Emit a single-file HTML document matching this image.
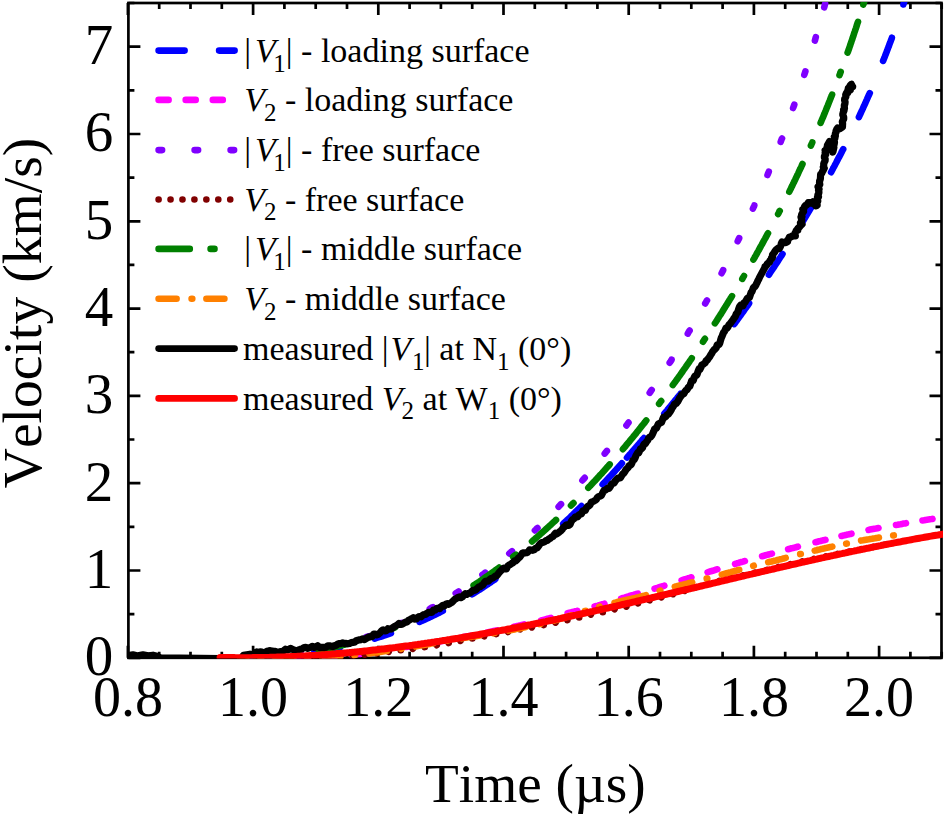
<!DOCTYPE html>
<html><head><meta charset="utf-8"><style>
html,body{margin:0;padding:0;background:#fff;overflow:hidden;}
svg{display:block;}
text{font-family:"Liberation Serif",serif;fill:#000;font-kerning:none;}
</style></head><body>
<svg width="944" height="816" viewBox="0 0 944 816">
<defs><clipPath id="pc"><rect x="128" y="2" width="815" height="656.5"/></clipPath></defs>
<rect width="944" height="816" fill="#fff"/>
<g stroke="#000" stroke-width="2.7" fill="none">
<rect x="128.4" y="3.0" width="813.1" height="654.8"/>
<path d="M127.9 657.8V645.8M127.9 3.0V15.0M159.2 657.8V651.8M159.2 3.0V9.0M190.5 657.8V651.8M190.5 3.0V9.0M221.8 657.8V651.8M221.8 3.0V9.0M253.1 657.8V645.8M253.1 3.0V15.0M284.4 657.8V651.8M284.4 3.0V9.0M315.7 657.8V651.8M315.7 3.0V9.0M347.0 657.8V651.8M347.0 3.0V9.0M378.3 657.8V645.8M378.3 3.0V15.0M409.6 657.8V651.8M409.6 3.0V9.0M440.9 657.8V651.8M440.9 3.0V9.0M472.2 657.8V651.8M472.2 3.0V9.0M503.5 657.8V645.8M503.5 3.0V15.0M534.8 657.8V651.8M534.8 3.0V9.0M566.1 657.8V651.8M566.1 3.0V9.0M597.4 657.8V651.8M597.4 3.0V9.0M628.7 657.8V645.8M628.7 3.0V15.0M660.0 657.8V651.8M660.0 3.0V9.0M691.3 657.8V651.8M691.3 3.0V9.0M722.6 657.8V651.8M722.6 3.0V9.0M753.9 657.8V645.8M753.9 3.0V15.0M785.2 657.8V651.8M785.2 3.0V9.0M816.5 657.8V651.8M816.5 3.0V9.0M847.8 657.8V651.8M847.8 3.0V9.0M879.1 657.8V645.8M879.1 3.0V15.0M910.4 657.8V651.8M910.4 3.0V9.0M941.7 657.8V651.8M941.7 3.0V9.0M128.4 657.8H140.4M941.5 657.8H929.5M128.4 614.1H134.4M941.5 614.1H935.5M128.4 570.5H140.4M941.5 570.5H929.5M128.4 526.8H134.4M941.5 526.8H935.5M128.4 483.2H140.4M941.5 483.2H929.5M128.4 439.5H134.4M941.5 439.5H935.5M128.4 395.9H140.4M941.5 395.9H929.5M128.4 352.2H134.4M941.5 352.2H935.5M128.4 308.6H140.4M941.5 308.6H929.5M128.4 264.9H134.4M941.5 264.9H935.5M128.4 221.3H140.4M941.5 221.3H929.5M128.4 177.6H134.4M941.5 177.6H935.5M128.4 134.0H140.4M941.5 134.0H929.5M128.4 90.4H134.4M941.5 90.4H935.5M128.4 46.7H140.4M941.5 46.7H929.5M128.4 3.0H134.4M941.5 3.0H935.5"/>
</g>
<g clip-path="url(#pc)" fill="none" stroke-width="6.6" stroke-linecap="round" stroke-linejoin="round">
<path d="M252.9 657.0 L254.7 656.9 L256.2 656.8 L257.7 656.7 L259.2 656.6 L260.7 656.5 L262.2 656.4 L263.7 656.3 L265.2 656.2 L266.7 656.1 L268.2 656.0 L269.7 655.9 L271.2 655.8 L272.7 655.7 L274.2 655.6 L275.7 655.5 L277.2 655.3 L278.7 655.2 L278.9 655.2 M314.4 651.4 L316.1 651.2 L317.6 651.0 L319.1 650.7 L320.5 650.5 L322.0 650.3 L323.5 650.1 L325.0 649.8 L326.5 649.6 L328.0 649.3 L329.5 649.1 L331.0 648.8 L332.5 648.6 L334.0 648.3 L335.5 648.0 L337.0 647.8 L338.4 647.5 L339.9 647.2 L340.0 647.2 M374.7 638.6 L376.1 638.1 L377.5 637.7 L379.0 637.2 L380.4 636.8 L381.9 636.3 L383.3 635.8 L384.7 635.4 L386.2 634.9 L387.6 634.4 L389.0 633.9 L390.5 633.4 L390.9 633.2 M419.5 621.9 L420.9 621.3 L422.3 620.7 L423.6 620.1 L425.0 619.5 L426.4 618.8 L427.7 618.2 L429.1 617.6 L430.5 616.9 L431.8 616.3 L433.2 615.6 L434.5 615.0 L435.9 614.3 L437.2 613.6 L438.6 613.0 L439.9 612.3 L441.3 611.6 L442.6 610.9 L442.8 610.8 M472.2 594.2 L473.7 593.3 L475.1 592.4 L476.6 591.5 L478.1 590.5 L479.6 589.6 L481.0 588.7 L482.5 587.7 L483.9 586.8 L485.4 585.8 L486.9 584.8 L488.3 583.9 L489.7 582.9 L491.2 581.9 L492.6 580.9 L494.1 580.0 L495.3 579.1 M563.2 523.8 L564.3 522.7 L565.4 521.7 L566.5 520.7 L567.6 519.6 L568.7 518.6 L569.8 517.6 L570.9 516.5 L572.0 515.5 L573.1 514.4 L574.1 513.4 L575.2 512.3 L576.3 511.3 L577.4 510.2 L578.5 509.1 L579.5 508.1 L580.6 507.0 L581.5 506.1 M602.6 484.4 L603.6 483.3 L604.7 482.2 L605.7 481.1 L606.7 480.0 L607.8 478.9 L608.8 477.7 L609.8 476.6 L610.9 475.5 L611.9 474.4 L612.9 473.3 L613.9 472.2 L615.0 471.0 L616.0 469.9 L617.0 468.8 L618.0 467.6 L619.0 466.5 L620.1 465.4 L621.1 464.3 L621.9 463.3 M627.0 457.6 L628.0 456.5 L629.0 455.3 L630.0 454.2 L631.0 453.1 L632.0 451.9 L633.0 450.8 L634.0 449.6 L635.0 448.5 L636.0 447.3 L637.0 446.2 L638.0 445.0 L639.0 443.9 L640.0 442.7 L641.0 441.6 L641.9 440.4 L642.9 439.2 L643.9 438.1 M664.3 413.8 L665.2 412.6 L666.2 411.5 L667.2 410.3 L668.1 409.1 L669.1 407.9 L670.0 406.8 L671.0 405.6 L672.0 404.4 L672.9 403.2 L673.9 402.0 L674.8 400.9 L675.8 399.7 L676.8 398.5 L677.7 397.3 L678.7 396.2 L679.6 395.0 L680.6 393.8 L680.7 393.6 M734.2 324.1 L735.1 322.9 L735.9 321.7 L736.8 320.5 L737.7 319.2 L738.6 318.0 L739.5 316.8 L740.4 315.6 L741.2 314.4 L742.1 313.1 L743.0 311.9 L743.9 310.7 L744.7 309.5 L745.6 308.2 L746.5 307.0 L747.4 305.8 L748.2 304.6 L749.1 303.3 M768.9 274.7 L769.7 273.4 L770.5 272.2 L771.4 270.9 L772.2 269.7 L773.0 268.4 L773.9 267.2 L774.7 265.9 L775.5 264.7 L776.3 263.4 L777.2 262.2 L778.0 260.9 L778.9 259.5 L779.9 258.0 L780.9 256.5 L781.8 255.1 L782.5 254.0 M802.6 221.8 L803.5 220.3 L804.4 218.8 L805.3 217.3 L806.2 215.8 L807.1 214.3 L808.0 212.8 L808.9 211.3 L809.8 209.8 L810.7 208.3 L811.3 207.2 M831.1 172.2 L831.9 170.7 L832.7 169.2 L833.5 167.6 L834.4 166.1 L835.2 164.5 L836.0 163.0 L836.8 161.4 L837.6 159.9 L838.4 158.3 L839.3 156.8 L840.1 155.2 L840.9 153.7 L841.6 152.3 L842.2 151.0 L842.9 149.7 L843.2 149.2 M858.9 117.1 L859.5 115.7 L860.2 114.3 L860.8 113.0 L861.4 111.6 L862.1 110.2 L862.7 108.9 L863.3 107.5 L863.9 106.1 L864.6 104.8 L865.2 103.4 L865.8 102.0 L866.4 100.6 L867.0 99.3 L867.6 97.9 L868.2 96.5 L868.9 95.1 L869.5 93.7 L869.8 93.1 M883.1 60.9 L883.7 59.5 L884.2 58.1 L884.8 56.7 L885.3 55.3 L885.9 53.9 L886.4 52.5 L887.0 51.0 L887.5 49.6 L888.0 48.2 L888.6 46.8 L889.1 45.4 L889.6 43.9 L890.2 42.5 L890.7 41.1 L891.2 39.7 L891.8 38.2 L891.9 37.7 M903.4 4.5 L903.8 3.0 L904.3 1.6 L904.8 0.1 L905.2 -1.4 L905.7 -2.8 L906.1 -4.3 L906.6 -5.8 L907.0 -7.2 L907.5 -8.7 L908.0 -10.2 L908.4 -11.7 L908.8 -13.1 L909.3 -14.6" stroke="#0000ff"/>
<path d="M242.6 659.5 L244.5 659.5 L246.0 659.5 L247.5 659.5 L249.0 659.5 L250.5 659.5 L252.0 659.5 L252.8 659.4 M270.0 659.2 L272.0 659.2 L273.5 659.2 L275.0 659.2 L276.5 659.1 L278.0 659.1 L279.5 659.1 L280.2 659.1 M297.4 658.7 L299.0 658.6 L300.5 658.6 L302.0 658.5 L303.5 658.5 L305.0 658.4 L306.5 658.4 L307.6 658.3 M324.8 657.3 L326.5 657.1 L328.0 657.0 L329.5 656.9 L331.0 656.7 L332.5 656.6 L334.0 656.5 L335.0 656.4 M352.1 654.8 L354.0 654.6 L355.5 654.4 L357.0 654.3 L358.5 654.1 L360.0 653.9 L361.5 653.7 L362.2 653.6 M379.3 651.2 L381.0 651.0 L382.5 650.7 L384.0 650.5 L385.5 650.3 L387.0 650.0 L388.5 649.8 L389.3 649.7 M406.3 647.0 L408.0 646.8 L409.5 646.5 L411.0 646.3 L412.5 646.0 L414.0 645.8 L415.5 645.6 L416.4 645.4 M433.4 642.6 L435.0 642.3 L436.5 642.0 L438.0 641.8 L439.5 641.5 L441.0 641.2 L442.5 641.0 L443.4 640.8 M460.3 637.7 L462.0 637.4 L463.5 637.1 L465.0 636.8 L466.5 636.5 L468.0 636.2 L469.5 635.9 L470.3 635.8 M487.2 632.4 L489.0 632.1 L490.5 631.7 L492.0 631.4 L493.5 631.1 L495.0 630.8 L496.5 630.5 L497.2 630.4 M514.0 626.8 L515.5 626.4 L517.0 626.1 L518.5 625.8 L520.0 625.4 L521.5 625.1 L523.0 624.8 L524.0 624.5 M541.1 620.4 L543.0 620.0 L544.5 619.6 L546.0 619.2 L547.5 618.8 L549.0 618.4 L550.5 618.0 L550.9 617.9 M567.6 613.3 L569.5 612.8 L571.0 612.4 L572.5 612.0 L574.0 611.6 L575.5 611.2 L577.0 610.9 L577.4 610.8 M594.6 606.5 L596.5 606.0 L598.0 605.6 L599.5 605.1 L601.0 604.7 L602.5 604.3 L604.0 603.9 L604.4 603.7 M621.1 598.6 L623.0 598.0 L624.5 597.6 L626.0 597.1 L627.5 596.6 L629.0 596.2 L630.5 595.7 L632.0 595.3 L633.5 594.9 L635.0 594.4 L636.5 594.0 L637.9 593.6 M654.6 588.7 L656.5 588.1 L658.0 587.7 L659.5 587.2 L661.0 586.7 L662.5 586.3 L664.0 585.8 L664.4 585.7 M681.6 580.3 L683.5 579.7 L685.0 579.3 L686.5 578.8 L688.0 578.3 L689.5 577.9 L691.0 577.4 L691.4 577.3 M707.6 572.3 L709.5 571.7 L711.0 571.2 L712.5 570.8 L714.0 570.3 L715.5 569.8 L717.0 569.4 L717.4 569.3 M735.1 563.9 L737.0 563.3 L738.5 562.9 L740.0 562.4 L741.5 562.0 L743.0 561.6 L744.5 561.1 L744.9 561.0 M762.1 556.2 L764.0 555.7 L765.5 555.3 L767.0 554.9 L768.5 554.5 L770.0 554.1 L771.5 553.7 L771.9 553.6 M788.1 549.2 L790.0 548.7 L791.5 548.3 L793.0 548.0 L794.5 547.6 L796.0 547.2 L797.5 546.8 L797.9 546.7 M815.5 542.2 L817.5 541.7 L819.0 541.3 L820.5 541.0 L822.0 540.6 L823.5 540.2 L825.0 539.9 L825.5 539.8 M841.5 536.0 L843.0 535.6 L844.5 535.3 L846.0 534.9 L847.5 534.6 L849.0 534.3 L850.5 533.9 L851.5 533.7 M868.5 529.9 L870.0 529.6 L871.5 529.3 L873.0 529.0 L874.5 528.7 L876.0 528.5 L877.5 528.2 L878.5 528.0 M896.0 524.9 L897.5 524.7 L899.0 524.4 L900.5 524.2 L902.0 523.9 L903.5 523.6 L905.0 523.4 L906.0 523.2 M922.5 520.4 L924.0 520.2 L925.5 519.9 L927.0 519.7 L928.5 519.5 L930.0 519.3 L931.5 519.1 L932.5 518.9" stroke="#ff00ff"/>
<path d="M261.9 657.1 L263.6 657.0 L265.3 657.0 L265.4 657.0 M297.2 653.9 L298.9 653.6 L300.6 653.4 L300.7 653.4 M332.1 647.2 L333.6 646.8 L335.2 646.4 L335.5 646.4 M366.1 637.2 L367.5 636.7 L369.1 636.2 L369.4 636.1 M398.6 624.3 L400.0 623.7 L401.5 623.0 L401.8 622.9 M429.8 608.8 L431.1 608.0 L432.6 607.2 L432.8 607.1 M455.7 593.3 L457.0 592.5 L458.3 591.6 L458.6 591.4 M482.4 574.8 L483.7 573.9 L485.0 572.9 L485.2 572.7 M509.3 553.5 L510.5 552.5 L511.7 551.4 L512.0 551.2 M534.9 530.4 L536.0 529.4 L537.2 528.2 L537.5 528.0 M558.6 506.7 L559.6 505.6 L560.8 504.4 L561.0 504.2 M582.4 480.4 L583.4 479.3 L584.5 478.0 L584.7 477.8 M604.7 453.6 L605.7 452.4 L606.7 451.1 L606.9 450.9 M626.4 425.4 L627.3 424.2 L628.3 422.8 L628.5 422.6 M649.7 392.8 L650.6 391.5 L651.5 390.2 L651.7 389.9 M669.7 362.7 L670.6 361.4 L671.5 360.0 L671.6 359.7 M687.8 333.6 L688.5 332.3 L689.4 330.9 L689.6 330.6 M705.2 303.5 L706.0 302.1 L706.8 300.7 L707.0 300.4 M721.6 273.2 L722.3 271.9 L723.1 270.4 L723.2 270.1 M737.7 241.3 L738.3 239.9 L739.1 238.4 L739.2 238.1 M752.9 208.7 L753.5 207.3 L754.2 205.8 L754.3 205.5 M767.5 175.0 L768.0 173.6 L768.7 172.0 L768.8 171.7 M780.7 141.8 L781.2 140.4 L781.8 138.8 L782.0 138.5 M793.1 108.0 L793.6 106.6 L794.2 105.0 L794.3 104.7 M804.3 74.8 L804.8 73.3 L805.3 71.7 L805.4 71.4 M814.9 40.6 L815.3 39.1 L815.7 37.5 L815.8 37.2 M824.2 7.3 L824.6 5.8 L825.0 4.2 L825.1 3.9" stroke="#8000ff"/>
<path d="M243.8 659.5 L243.88 659.49 M255.9 659.4 L255.98 659.42 M268.0 659.3 L268.08 659.26 M280.1 659.0 L280.18 659.04 M292.2 658.8 L292.27 658.78 M304.3 658.5 L304.37 658.48 M316.4 658.0 L316.46 658.02 M328.5 657.4 L328.54 657.40 M340.6 656.6 L340.62 656.65 M352.6 655.8 L352.69 655.80 M364.7 654.7 L364.74 654.69 M376.7 653.3 L376.76 653.32 M388.7 651.8 L388.77 651.82 M400.7 650.3 L400.77 650.30 M412.7 648.8 L412.77 648.76 M424.7 647.1 L424.76 647.09 M436.7 645.2 L436.71 645.21 M448.6 643.1 L448.62 643.09 M460.4 640.8 L460.49 640.75 M472.3 638.4 L472.37 638.40 M484.2 636.3 L484.28 636.32 M496.1 634.1 L496.18 634.10 M508.0 632.0 L508.09 631.96 M519.8 629.3 L519.89 629.31 M531.8 627.3 L531.83 627.33 M543.7 625.0 L543.71 625.04 M555.5 622.6 L555.55 622.56 M567.3 620.1 L567.39 620.07 M579.2 617.4 L579.20 617.42 M590.9 614.5 L590.93 614.46 M602.8 612.2 L602.82 612.20 M614.5 609.3 L614.55 609.24 M626.3 606.6 L626.35 606.56 M637.9 603.3 L637.99 603.27 M649.7 600.3 L649.71 600.25 M661.4 597.3 L661.45 597.33 M673.1 594.1 L673.11 594.11 M684.7 590.8 L684.74 590.77 M696.2 587.2 L696.29 587.15 M707.9 583.9 L707.93 583.87 M719.6 581.0 L719.69 581.03 M731.4 578.3 L731.47 578.25 M743.2 575.5 L743.24 575.45 M755.0 572.7 L755.02 572.68 M766.7 569.9 L766.79 569.88 M778.5 567.0 L778.55 567.03 M790.3 564.2 L790.32 564.23 M802.1 561.5 L802.12 561.53 M813.9 559.0 L813.94 558.96 M825.7 556.5 L825.78 556.48 M837.6 554.0 L837.63 554.02 M849.4 551.6 L849.49 551.61 M861.3 549.2 L861.35 549.23 M873.2 546.9 L873.23 546.89 M885.1 544.6 L885.10 544.59" stroke="#800000"/>
<path d="M243.2 657.6 L244.9 657.6 L246.4 657.6 L248.0 657.6 L249.5 657.6 L251.1 657.6 L252.6 657.6 L254.2 657.5 L255.8 657.5 L257.3 657.5 L258.8 657.4 L260.4 657.3 L261.9 657.3 L263.5 657.2 L265.0 657.1 L266.5 657.1 L268.1 657.0 L269.6 656.9 L271.1 656.8 L272.7 656.7 L274.2 656.6 M295.3 654.4 L297.0 654.1 L298.5 653.9 L298.8 653.9 M318.7 650.5 L320.3 650.2 L322.0 649.9 L323.7 649.5 L325.4 649.2 L327.1 648.8 L328.8 648.4 L330.4 648.1 L332.1 647.7 L333.8 647.3 L335.5 646.9 L337.1 646.5 L338.8 646.1 L340.5 645.6 L342.1 645.2 L343.8 644.8 L345.4 644.3 L347.1 643.9 L348.7 643.4 L348.9 643.4 M369.2 637.1 L370.6 636.6 L372.2 636.1 L372.5 636.0 M391.4 628.9 L392.8 628.3 L394.4 627.7 L394.7 627.6 M473.6 585.4 L475.0 584.5 L476.4 583.5 L477.9 582.6 L479.3 581.7 L480.7 580.7 L482.1 579.7 L483.5 578.8 L484.9 577.8 L486.3 576.8 L487.6 575.9 L489.0 574.9 L490.4 573.9 L491.8 572.9 L493.2 571.9 L494.6 570.9 L495.9 569.9 L497.3 568.9 L498.7 567.9 L499.1 567.6 M513.1 556.9 L514.3 555.9 L515.6 554.9 L515.9 554.7 M532.0 541.4 L533.3 540.3 L534.6 539.2 L535.9 538.0 L537.2 536.9 L538.5 535.8 L539.8 534.7 L541.0 533.5 L542.3 532.4 L543.6 531.3 L544.9 530.1 L546.1 529.0 L547.4 527.8 L548.7 526.7 L549.9 525.5 L551.2 524.4 L552.5 523.2 L553.7 522.0 L555.0 520.9 L556.0 519.9 M571.0 505.5 L572.1 504.4 L573.3 503.2 L573.5 503.0 M588.3 487.8 L589.5 486.5 L590.7 485.3 L591.9 484.0 L593.0 482.8 L594.2 481.5 L595.4 480.3 L596.6 479.0 L597.7 477.8 L598.9 476.5 L600.0 475.2 L601.2 474.0 L602.4 472.7 L603.5 471.4 L604.7 470.1 L605.8 468.8 L606.9 467.6 L608.1 466.3 L609.2 465.0 L609.7 464.4 M622.9 449.2 L624.0 447.9 L625.1 446.6 L626.2 445.2 L627.3 443.9 L628.4 442.6 L629.5 441.3 L630.6 439.9 L631.7 438.6 L632.8 437.3 L633.9 435.9 L635.0 434.6 L636.1 433.3 L637.1 431.9 L638.2 430.6 L639.3 429.2 L640.4 427.9 L641.4 426.5 L642.5 425.2 L643.6 423.8 L644.7 422.5 L645.7 421.1 L646.3 420.4 M659.1 403.8 L660.0 402.6 L661.0 401.2 L661.2 401.0 M672.8 385.1 L673.8 383.7 L674.9 382.3 L675.9 380.9 L676.9 379.5 L677.9 378.1 L678.9 376.7 L679.9 375.3 L680.9 373.9 L681.9 372.5 L682.8 371.1 L683.8 369.7 L684.8 368.3 L685.8 366.9 L686.8 365.4 L687.8 364.0 L688.8 362.6 L689.7 361.2 L690.7 359.8 L691.7 358.4 L691.8 358.2 M703.0 341.7 L703.8 340.4 L704.7 339.0 L704.9 338.8 M714.9 323.3 L715.9 321.9 L716.8 320.5 L717.7 319.0 L718.6 317.6 L719.5 316.1 L720.5 314.7 L721.4 313.2 L722.3 311.8 L723.2 310.3 L724.1 308.8 L725.0 307.4 L725.9 305.9 L726.8 304.5 L727.7 303.0 L728.6 301.5 L729.5 300.1 L730.4 298.6 L731.3 297.2 L732.0 296.1 M742.3 278.9 L743.0 277.6 L743.9 276.1 L744.0 275.9 M753.4 259.6 L754.3 258.1 L755.1 256.6 L756.0 255.1 L756.8 253.6 L757.6 252.1 L758.5 250.6 L759.3 249.1 L760.1 247.6 L760.9 246.1 L761.8 244.6 L762.6 243.1 L763.4 241.6 L764.2 240.1 L765.1 238.6 L765.9 237.1 L766.7 235.6 L767.5 234.1 L768.0 233.3 M778.1 214.0 L778.8 212.7 L779.5 211.2 L779.7 210.9 M789.3 191.8 L790.0 190.2 L790.8 188.7 L791.5 187.1 L792.3 185.6 L793.0 184.1 L793.8 182.5 L794.5 181.0 L795.3 179.4 L796.0 177.9 L796.7 176.4 L797.5 174.8 L798.2 173.3 L798.9 171.7 L799.6 170.2 L800.4 168.6 L801.1 167.1 L801.8 165.5 L802.5 164.0 M810.9 145.6 L811.5 144.2 L812.2 142.6 L812.3 142.3 M820.6 122.9 L821.3 121.3 L821.9 119.7 L822.6 118.1 L823.3 116.6 L823.9 115.0 L824.6 113.4 L825.2 111.8 L825.9 110.2 L826.5 108.6 L827.1 107.1 L827.8 105.5 L828.4 103.9 L829.0 102.3 L829.7 100.7 L830.3 99.1 L830.9 97.5 L831.6 95.9 L832.1 94.6 M839.5 75.2 L840.0 73.8 L840.6 72.2 L840.7 71.9 M847.6 52.6 L848.2 51.0 L848.8 49.4 L849.3 47.8 L849.9 46.2 L850.4 44.5 L851.0 42.9 L851.5 41.3 L852.1 39.7 L852.6 38.0 L853.2 36.4 L853.7 34.8 L854.2 33.2 L854.8 31.5 L855.3 29.9 L855.9 28.3 L856.4 26.7 L856.9 25.0 L857.4 23.4 L858.0 21.8 M863.3 4.7 L863.7 3.3 L864.2 1.6 L864.3 1.4" stroke="#008000"/>
<path d="M240.0 659.5 L241.5 659.5 L243.0 659.5 L244.5 659.5 L246.0 659.5 L246.4 659.5 M260.5 659.4 L261.2 659.4 M275.4 659.1 L277.0 659.1 L278.5 659.1 L280.0 659.1 L281.5 659.0 L283.0 659.0 L284.5 659.0 L286.0 658.9 L287.5 658.9 L289.0 658.9 L290.5 658.8 L292.0 658.8 L293.4 658.8 M307.5 658.4 L308.2 658.3 M322.4 657.6 L324.0 657.5 L325.5 657.4 L327.0 657.3 L328.5 657.2 L330.0 657.1 L331.5 657.0 L333.0 656.9 L334.5 656.7 L336.0 656.6 L337.5 656.5 L339.0 656.4 L340.3 656.3 M354.4 655.1 L355.1 655.0 M369.2 653.4 L371.0 653.2 L372.5 653.0 L374.0 652.8 L375.5 652.6 L377.0 652.4 L378.5 652.2 L380.0 652.0 L381.5 651.7 L383.0 651.5 L384.5 651.3 L386.0 651.1 L387.0 650.9 M401.0 648.9 L401.7 648.7 M415.6 646.4 L417.5 646.1 L419.0 645.8 L420.5 645.5 L422.0 645.3 L423.5 645.0 L425.0 644.7 L426.5 644.4 L428.0 644.2 L429.5 643.9 L431.0 643.6 L432.5 643.3 L433.3 643.2 M447.3 640.7 L448.0 640.5 M461.9 638.3 L463.5 638.0 L465.0 637.8 L466.5 637.6 L468.0 637.3 L469.5 637.1 L471.0 636.9 L472.5 636.6 L474.0 636.4 L475.5 636.2 L477.0 635.9 L478.5 635.7 L479.7 635.5 M493.7 633.2 L494.4 633.1 M508.3 630.6 L510.0 630.3 L511.5 630.0 L513.0 629.7 L514.5 629.4 L516.0 629.1 L517.5 628.8 L519.0 628.5 L520.5 628.2 L522.0 627.9 L523.5 627.6 L525.0 627.3 L525.9 627.1 M539.8 624.1 L540.5 624.0 M554.2 620.6 L556.0 620.1 L557.5 619.6 L559.0 619.2 L560.5 618.7 L562.0 618.3 L563.5 617.8 L565.0 617.3 L566.5 616.8 L568.0 616.4 L569.5 615.9 L571.0 615.4 L571.4 615.3 M584.9 611.0 L585.6 610.8 M599.2 606.9 L599.8 606.7 M614.5 602.7 L616.0 602.4 L617.5 602.0 L619.0 601.6 L620.5 601.3 L622.0 600.9 L623.5 600.6 L625.0 600.3 L626.5 599.9 L628.0 599.6 L629.5 599.3 L631.0 598.9 L632.5 598.6 L634.0 598.2 L635.5 597.9 L637.0 597.5 L638.5 597.2 L640.0 596.8 L641.5 596.4 L643.0 596.0 L644.5 595.6 L646.0 595.2 M659.7 590.8 L660.3 590.6 M674.8 586.7 L676.5 586.3 L678.0 585.9 L679.5 585.5 L681.0 585.1 L682.5 584.8 L684.0 584.4 L685.5 584.0 L687.0 583.6 L688.5 583.2 L690.0 582.8 L691.5 582.5 L692.2 582.3 M706.7 578.6 L707.3 578.5 M721.8 574.6 L723.5 574.1 L725.0 573.7 L726.5 573.3 L728.0 572.9 L729.5 572.5 L731.0 572.1 L732.5 571.6 L734.0 571.2 L735.5 570.8 L737.0 570.4 L738.5 569.9 L739.2 569.8 M753.2 565.9 L753.8 565.7 M768.2 562.2 L770.0 561.8 L771.5 561.5 L773.0 561.1 L774.5 560.7 L776.0 560.4 L777.5 560.0 L779.0 559.6 L780.5 559.2 L782.0 558.9 L783.5 558.5 L785.0 558.1 L785.7 557.9 M800.2 554.1 L800.8 554.0 M814.7 550.6 L816.5 550.2 L818.0 549.8 L819.5 549.5 L821.0 549.1 L822.5 548.8 L824.0 548.4 L825.5 548.1 L827.0 547.8 L828.5 547.4 L830.0 547.1 L831.5 546.8 L832.3 546.6 M846.2 543.7 L846.8 543.6 M861.1 540.6 L863.0 540.3 L864.5 540.0 L866.0 539.7 L867.5 539.4 L869.0 539.2 L870.5 538.9 L872.0 538.7 L873.5 538.4 L875.0 538.2 L876.5 537.9 L878.0 537.7 L878.9 537.6 M893.2 535.5 L893.8 535.4" stroke="#ff8000"/>
<path d="M128.0 655.7 L133.0 654.8 L138.0 655.9 L143.0 654.9 L148.0 655.8 L153.0 655.2 L157.0 656.2 L160.0 657.8 L220.0 658.5 L241.0 659.0 L243.5 655.3 L250.0 654.2 L251.7 654.5 L253.4 654.4 L255.1 652.7 L256.7 651.9 L258.4 653.1 L260.1 651.8 L261.8 652.1 L263.5 653.2 L265.2 652.3 L266.9 651.3 L268.6 650.9 L270.3 650.7 L272.0 651.0 L273.7 651.3 L275.4 651.3 L277.1 652.3 L278.8 652.3 L280.5 651.5 L282.1 651.9 L283.8 650.6 L285.5 649.2 L287.2 650.0 L288.9 649.4 L290.6 648.4 L292.3 649.4 L294.0 649.9 L295.7 650.7 L297.4 650.6 L299.1 649.7 L300.8 649.3 L302.5 648.6 L304.2 647.5 L305.9 647.3 L307.5 648.4 L309.2 647.8 L310.9 647.2 L312.6 646.3 L314.3 647.4 L315.9 646.8 L317.6 645.8 L319.3 647.3 L321.0 647.3 L322.7 647.4 L324.4 647.4 L326.1 647.2 L327.8 645.8 L329.5 645.8 L331.2 646.2 L332.8 646.6 L334.5 645.7 L336.2 645.2 L337.9 644.0 L339.5 643.6 L341.2 643.6 L342.9 642.8 L344.5 643.7 L346.2 643.4 L347.9 643.8 L349.5 643.5 L351.2 642.6 L352.9 642.4 L354.5 642.2 L356.2 640.7 L357.9 640.2 L359.5 639.8 L361.2 639.6 L362.9 638.8 L364.5 639.7 L366.0 638.6 L367.5 637.7 L369.0 636.8 L370.5 636.8 L372.1 636.4 L373.6 634.2 L375.1 634.2 L376.7 634.8 L378.3 634.3 L379.9 632.9 L381.5 630.9 L383.1 629.8 L384.7 630.9 L386.3 630.6 L387.9 628.7 L389.5 629.1 L391.0 629.0 L392.6 627.8 L394.2 626.7 L395.8 625.8 L397.4 624.9 L399.0 623.5 L400.5 624.5 L402.1 624.2 L403.7 623.2 L405.3 622.1 L406.9 622.1 L408.4 620.5 L410.0 619.6 L411.6 618.7 L413.2 617.7 L414.7 619.1 L416.3 619.0 L417.8 617.4 L419.4 616.5 L421.0 616.8 L422.5 615.4 L424.1 614.5 L425.6 614.4 L427.2 613.1 L428.7 612.3 L430.3 612.4 L431.8 612.4 L433.4 610.2 L435.0 610.2 L436.5 608.6 L438.1 608.2 L439.6 608.7 L441.2 606.6 L442.7 605.5 L444.3 606.1 L445.8 604.2 L447.4 603.7 L448.9 604.3 L450.4 603.1 L451.9 602.3 L453.4 600.7 L454.9 599.1 L456.3 598.6 L457.8 597.6 L459.3 596.9 L460.8 597.7 L462.3 596.9 L463.8 595.0 L465.3 593.7 L466.8 594.3 L468.3 593.4 L469.8 593.0 L471.3 591.9 L472.8 590.4 L474.2 590.5 L475.7 589.9 L477.2 588.5 L478.7 587.0 L480.1 586.8 L481.5 585.5 L482.8 584.9 L484.2 582.8 L485.6 581.3 L487.0 581.1 L488.4 581.2 L489.8 579.3 L491.2 578.5 L492.6 578.1 L494.0 577.1 L495.4 576.0 L496.8 575.7 L498.2 573.8 L499.6 572.0 L501.0 570.7 L502.4 569.0 L503.7 568.1 L505.1 568.9 L506.4 568.8 L507.8 566.0 L509.1 565.0 L510.4 564.4 L511.8 563.4 L513.1 562.6 L514.4 560.9 L515.8 560.8 L517.1 559.6 L518.4 558.1 L519.7 557.3 L521.1 555.3 L522.4 553.2 L523.7 552.8 L525.0 553.0 L526.5 552.8 L528.0 552.0 L529.6 549.8 L531.1 550.0 L532.7 550.3 L534.3 549.6 L535.8 548.2 L537.3 547.8 L538.8 545.6 L540.3 543.5 L541.8 542.6 L543.3 542.3 L544.7 541.7 L546.1 540.6 L547.5 540.4 L548.9 538.8 L550.3 538.3 L551.7 537.1 L553.0 536.5 L554.2 534.7 L555.5 533.3 L556.8 534.0 L558.1 533.0 L559.4 531.9 L560.7 530.9 L562.1 529.5 L563.4 527.4 L564.8 526.6 L566.1 525.0 L567.5 524.8 L568.8 525.3 L570.1 524.3 L571.4 521.2 L572.7 519.5 L573.9 518.7 L575.2 517.1 L576.5 516.8 L577.7 516.8 L579.0 514.9 L580.3 514.2 L581.5 513.8 L582.8 511.0 L584.1 510.3 L585.3 510.4 L586.5 507.8 L587.7 506.4 L588.9 505.9 L590.1 504.8 L591.3 502.3 L592.5 501.7 L593.7 501.2 L594.9 500.5 L596.2 499.6 L597.5 497.4 L598.8 496.5 L600.1 496.3 L601.4 495.5 L602.7 492.8 L604.0 490.3 L605.3 490.3 L606.5 489.1 L607.8 488.1 L609.1 488.4 L610.3 486.5 L611.6 484.2 L612.8 483.4 L614.1 483.0 L615.3 480.9 L616.6 479.5 L617.8 478.2 L619.0 477.8 L620.3 477.9 L621.5 475.9 L622.7 474.0 L623.9 473.2 L625.0 471.4 L626.0 469.6 L627.1 468.5 L628.1 467.6 L629.1 465.6 L630.2 465.2 L631.2 464.5 L632.2 462.2 L633.3 459.9 L634.2 459.7 L635.1 457.9 L636.0 455.5 L636.9 454.0 L637.8 452.5 L638.7 452.8 L639.5 451.2 L640.4 448.9 L641.5 448.7 L642.5 447.7 L643.5 445.0 L644.5 443.6 L645.5 443.6 L646.5 441.8 L647.6 440.4 L648.6 438.2 L649.6 437.3 L650.6 437.0 L651.6 435.8 L652.5 434.1 L653.5 431.8 L654.5 429.3 L655.5 428.4 L656.5 428.3 L657.4 426.0 L658.4 423.9 L659.5 423.3 L660.6 422.9 L661.6 422.2 L662.7 419.3 L663.7 417.0 L664.8 417.1 L665.9 416.4 L666.9 415.0 L668.0 414.4 L669.0 413.4 L670.1 411.7 L671.1 410.1 L672.2 407.8 L673.3 406.5 L674.3 404.5 L675.4 403.7 L676.4 403.3 L677.5 401.9 L678.6 399.9 L679.6 398.0 L680.7 396.6 L681.8 394.5 L682.8 394.4 L683.9 393.6 L685.0 391.5 L686.0 390.3 L687.1 389.6 L688.1 387.7 L688.9 386.8 L689.8 386.2 L690.7 383.7 L691.6 380.8 L692.4 380.4 L693.3 380.4 L694.2 377.4 L695.1 375.9 L696.0 375.7 L697.0 374.7 L698.0 371.6 L699.0 368.9 L699.9 369.5 L700.9 367.5 L701.9 364.9 L702.9 364.6 L704.0 363.6 L705.1 362.8 L706.2 360.6 L707.3 360.1 L708.4 358.3 L709.4 357.2 L710.5 355.2 L711.6 353.7 L712.5 351.9 L713.5 350.5 L714.4 349.5 L715.3 349.0 L716.3 347.6 L717.2 344.8 L718.1 345.0 L719.0 344.7 L719.8 343.1 L720.6 340.1 L721.3 337.9 L722.1 336.2 L722.9 334.2 L723.6 332.3 L724.4 331.7 L725.1 330.0 L725.9 328.1 L726.9 328.3 L727.9 327.2 L729.0 324.6 L730.0 323.9 L731.1 322.4 L732.1 321.0 L733.2 319.5 L734.0 318.2 L734.8 317.3 L735.6 315.8 L736.3 313.8 L737.1 312.9 L737.8 312.2 L738.6 309.2 L739.5 306.7 L740.6 305.3 L741.7 305.9 L742.9 305.9 L744.0 302.9 L745.1 302.2 L746.2 300.3 L747.3 298.5 L748.4 297.7 L749.5 297.3 L750.4 294.6 L751.2 292.3 L751.9 291.9 L752.7 289.6 L753.4 287.6 L754.2 286.9 L754.9 286.6 L755.7 285.5 L756.4 283.9 L757.2 282.3 L757.9 280.6 L758.7 279.3 L759.4 277.6 L764.8 267.6 L764.9 266.6 L765.6 266.3 L767.6 264.0 L767.4 263.6 L769.7 262.0 L769.9 260.8 L770.3 260.3 L772.2 257.9 L771.5 257.9 L772.7 256.5 L772.5 254.7 L774.6 252.2 L774.5 251.9 L775.6 250.5 L775.9 250.0 L778.1 248.1 L779.2 248.6 L780.0 247.3 L781.3 244.7 L781.2 243.8 L782.0 242.0 L783.4 242.4 L785.2 242.5 L785.8 242.7 L787.6 241.7 L787.4 240.4 L788.6 239.0 L789.6 237.5 L789.3 237.3 L792.0 236.5 L792.2 235.8 L795.4 235.9 L794.8 233.6 L794.9 233.4 L795.7 231.8 L796.4 230.3 L797.8 230.0 L797.7 228.7 L799.6 226.9 L800.7 225.4 L802.0 224.3 L800.5 222.9 L801.4 221.6 L801.8 220.4 L801.7 219.7 L801.0 217.1 L802.0 216.7 L801.6 214.8 L802.0 213.7 L803.6 211.4 L802.8 209.3 L803.6 209.2 L804.5 206.8 L805.4 205.4 L806.0 205.5 L807.4 204.1 L808.2 202.7 L809.9 202.5 L811.7 203.3 L812.9 201.8 L813.9 203.4 L814.5 203.5 L815.7 205.9 L816.4 205.8 L817.2 205.1 L816.8 202.7 L817.1 202.2 L817.8 201.2 L817.5 198.3 L817.4 197.2 L818.5 196.6 L817.9 194.8 L818.9 192.8 L818.9 191.9 L818.5 190.1 L819.1 189.3 L818.0 186.8 L818.8 186.1 L819.8 184.4 L819.5 183.1 L819.6 181.0 L820.0 180.1 L820.4 178.6 L820.5 176.6 L820.6 174.5 L820.7 174.8 L821.8 173.1 L822.7 171.0 L823.1 170.5 L824.3 168.2 L823.3 167.0 L823.7 166.2 L823.7 164.0 L824.3 162.2 L825.1 160.8 L825.2 158.9 L824.4 157.6 L824.4 156.2 L825.7 154.6 L825.1 152.9 L825.7 152.1 L825.1 150.3 L827.0 149.8 L826.6 148.7 L827.4 146.1 L827.4 145.3 L828.3 143.7 L829.5 141.6 L830.1 142.6 L830.1 145.3 L831.3 145.9 L831.3 147.9 L831.8 147.9 L832.8 150.2 L832.8 152.1 L833.1 151.0 L833.8 147.9 L833.9 147.3 L832.7 145.6 L834.1 144.8 L834.5 142.1 L834.1 140.9 L833.6 140.4 L834.9 138.3 L834.3 136.8 L835.4 136.3 L835.3 133.7 L836.2 131.7 L836.0 130.9 L836.8 129.1 L837.7 127.9 L839.3 128.4 L839.9 128.6 L842.5 127.0 L842.5 126.2 L842.6 124.1 L842.6 123.1 L842.3 121.9 L843.0 120.1 L843.7 119.0 L843.7 117.1 L842.8 114.9 L842.8 114.1 L843.2 112.5 L844.1 110.4 L843.6 109.7 L844.5 108.5 L844.3 105.8 L844.4 105.1 L844.9 104.0 L845.1 101.9 L844.6 100.2 L844.7 98.9 L845.4 97.7 L845.9 96.5 L845.7 94.8 L846.7 92.6 L847.8 92.6 L847.5 91.4 L848.3 88.7 L849.4 87.8 L850.5 86.5 L852.7 86.6 L851.9 85.5 L851.4 84.3 L850.1 85.6 L850.5 86.4 L848.5 88.1 L850.5 89.7 L850.5 89.5" stroke="#000000" stroke-width="7.2"/>
<path d="M220.1 657.4 L221.8 657.4 L223.6 657.5 L225.3 657.5 L227.1 657.5 L228.8 657.6 L230.5 657.6 L232.3 657.6 L234.0 657.6 L235.7 657.7 L237.5 657.7 L239.2 657.7 L240.9 657.7 L242.7 657.7 L244.4 657.7 L246.1 657.7 L247.9 657.7 L249.6 657.7 L251.3 657.7 L253.1 657.6 L254.8 657.6 L256.5 657.6 L258.3 657.6 L260.0 657.6 L261.7 657.5 L263.4 657.5 L265.2 657.5 L266.9 657.4 L268.6 657.4 L270.4 657.3 L272.1 657.3 L273.8 657.2 L275.5 657.2 L277.3 657.1 L279.0 657.1 L280.7 657.0 L282.4 657.0 L284.2 656.9 L285.9 656.8 L287.6 656.8 L289.3 656.7 L291.0 656.6 L292.8 656.5 L294.5 656.5 L296.2 656.4 L297.9 656.3 L299.6 656.2 L301.4 656.1 L303.1 656.0 L304.8 655.9 L306.5 655.8 L308.2 655.7 L310.0 655.6 L311.7 655.5 L313.4 655.4 L315.1 655.3 L316.8 655.2 L318.5 655.1 L320.3 654.9 L322.0 654.8 L323.7 654.7 L325.4 654.6 L327.1 654.4 L328.8 654.3 L330.5 654.2 L332.3 654.0 L334.0 653.9 L335.7 653.8 L337.4 653.6 L339.1 653.5 L340.8 653.3 L342.5 653.2 L344.2 653.0 L345.9 652.9 L347.7 652.7 L349.4 652.6 L351.1 652.4 L352.8 652.2 L354.5 652.1 L356.2 651.9 L357.9 651.7 L359.6 651.6 L361.3 651.4 L363.0 651.2 L364.7 651.0 L366.4 650.9 L368.1 650.7 L369.8 650.5 L371.5 650.3 L373.3 650.1 L375.0 649.9 L376.7 649.7 L378.4 649.5 L380.1 649.3 L381.8 649.1 L383.5 648.9 L385.2 648.7 L386.9 648.5 L388.6 648.3 L390.3 648.1 L392.0 647.9 L393.7 647.7 L395.4 647.5 L397.1 647.2 L398.8 647.0 L400.5 646.8 L402.2 646.6 L403.9 646.3 L405.6 646.1 L407.3 645.9 L409.0 645.7 L410.7 645.4 L412.4 645.2 L414.1 644.9 L415.8 644.7 L417.5 644.5 L419.2 644.2 L420.9 644.0 L422.5 643.7 L424.2 643.5 L425.9 643.2 L427.6 643.0 L429.3 642.7 L431.0 642.5 L432.7 642.2 L434.4 642.0 L436.1 641.7 L437.8 641.4 L439.5 641.2 L441.2 640.9 L442.9 640.6 L444.6 640.4 L446.3 640.1 L448.0 639.8 L449.6 639.6 L451.3 639.3 L453.0 639.0 L454.7 638.7 L456.4 638.4 L458.1 638.2 L459.8 637.9 L461.5 637.6 L463.2 637.3 L464.9 637.0 L466.5 636.7 L468.2 636.4 L469.9 636.1 L471.6 635.8 L473.3 635.5 L475.0 635.2 L476.7 634.9 L478.4 634.6 L480.1 634.3 L481.7 634.0 L483.4 633.7 L485.1 633.4 L486.8 633.1 L488.5 632.8 L490.2 632.5 L491.9 632.2 L493.5 631.9 L495.2 631.6 L496.9 631.2 L498.6 630.9 L500.3 630.6 L502.0 630.3 L503.7 630.0 L505.3 629.7 L507.0 629.3 L508.7 629.0 L510.4 628.7 L512.1 628.3 L513.8 628.0 L515.4 627.7 L517.1 627.4 L518.8 627.0 L520.5 626.7 L522.2 626.4 L523.8 626.0 L525.5 625.7 L527.2 625.3 L528.9 625.0 L530.6 624.7 L532.3 624.3 L533.9 624.0 L535.6 623.6 L537.3 623.3 L539.0 622.9 L540.7 622.6 L542.3 622.3 L544.0 621.9 L545.7 621.6 L547.4 621.2 L549.1 620.8 L550.7 620.5 L552.4 620.1 L554.1 619.8 L555.8 619.4 L557.5 619.1 L559.1 618.7 L560.8 618.4 L562.5 618.0 L564.2 617.6 L565.8 617.3 L567.5 616.9 L569.2 616.5 L570.9 616.2 L572.6 615.8 L574.2 615.4 L575.9 615.1 L577.6 614.7 L579.3 614.3 L580.9 614.0 L582.6 613.6 L584.3 613.2 L586.0 612.9 L587.6 612.5 L589.3 612.1 L591.0 611.7 L592.7 611.4 L594.3 611.0 L596.0 610.6 L597.7 610.2 L599.4 609.9 L601.0 609.5 L602.7 609.1 L604.4 608.7 L606.1 608.3 L607.8 608.0 L609.4 607.6 L611.1 607.2 L612.8 606.8 L614.4 606.4 L616.1 606.1 L617.8 605.7 L619.5 605.3 L621.1 604.9 L622.8 604.5 L624.5 604.1 L626.2 603.7 L627.8 603.3 L629.5 603.0 L631.2 602.6 L632.9 602.2 L634.5 601.8 L636.2 601.4 L637.9 601.0 L639.6 600.6 L641.2 600.2 L642.9 599.8 L644.6 599.4 L646.2 599.1 L647.9 598.7 L649.6 598.3 L651.3 597.9 L652.9 597.5 L654.6 597.1 L656.3 596.7 L658.0 596.3 L659.6 595.9 L661.3 595.5 L663.0 595.1 L664.6 594.7 L666.3 594.3 L668.0 593.9 L669.7 593.5 L671.3 593.1 L673.0 592.7 L674.7 592.3 L676.4 591.9 L678.0 591.5 L679.7 591.1 L681.4 590.7 L683.0 590.3 L684.7 589.9 L686.4 589.5 L688.1 589.2 L689.7 588.8 L691.4 588.4 L693.1 588.0 L694.7 587.6 L696.4 587.2 L698.1 586.8 L699.8 586.4 L701.4 586.0 L703.1 585.6 L704.8 585.2 L706.5 584.8 L708.1 584.4 L709.8 584.0 L711.5 583.6 L713.1 583.2 L714.8 582.8 L716.5 582.4 L718.2 582.0 L719.8 581.6 L721.5 581.2 L723.2 580.8 L724.8 580.4 L726.5 580.0 L728.2 579.6 L729.9 579.2 L731.5 578.8 L733.2 578.4 L734.9 578.0 L736.6 577.6 L738.2 577.2 L739.9 576.8 L741.6 576.4 L743.2 576.0 L744.9 575.6 L746.6 575.2 L748.3 574.8 L749.9 574.4 L751.6 574.1 L753.3 573.7 L754.9 573.3 L756.6 572.9 L758.3 572.5 L760.0 572.1 L761.6 571.7 L763.3 571.3 L765.0 570.9 L766.7 570.5 L768.3 570.1 L770.0 569.7 L771.7 569.4 L773.4 569.0 L775.0 568.6 L776.7 568.2 L778.4 567.8 L780.0 567.4 L781.7 567.0 L783.4 566.6 L785.1 566.3 L786.7 565.9 L788.4 565.5 L790.1 565.1 L791.8 564.7 L793.4 564.3 L795.1 564.0 L796.8 563.6 L798.5 563.2 L800.1 562.8 L801.8 562.4 L803.5 562.1 L805.2 561.7 L806.8 561.3 L808.5 560.9 L810.2 560.6 L811.9 560.2 L813.5 559.8 L815.2 559.4 L816.9 559.1 L818.6 558.7 L820.2 558.3 L821.9 557.9 L823.6 557.6 L825.3 557.2 L826.9 556.8 L828.6 556.5 L830.3 556.1 L832.0 555.7 L833.7 555.4 L835.3 555.0 L837.0 554.7 L838.7 554.3 L840.4 553.9 L842.0 553.6 L843.7 553.2 L845.4 552.9 L847.1 552.5 L848.8 552.1 L850.4 551.8 L852.1 551.4 L853.8 551.1 L855.5 550.7 L857.1 550.4 L858.8 550.0 L860.5 549.7 L862.2 549.3 L863.9 549.0 L865.5 548.6 L867.2 548.3 L868.9 548.0 L870.6 547.6 L872.3 547.3 L873.9 546.9 L875.6 546.6 L877.3 546.3 L879.0 545.9 L880.7 545.6 L882.4 545.2 L884.0 544.9 L885.7 544.6 L887.4 544.2 L889.1 543.9 L890.8 543.6 L892.4 543.3 L894.1 542.9 L895.8 542.6 L897.5 542.3 L899.2 542.0 L900.9 541.7 L902.5 541.3 L904.2 541.0 L905.9 540.7 L907.6 540.4 L909.3 540.1 L911.0 539.8 L912.7 539.4 L914.3 539.1 L916.0 538.8 L917.7 538.5 L919.4 538.2 L921.1 537.9 L922.8 537.6 L924.5 537.3 L926.1 537.0 L927.8 536.7 L929.5 536.4 L931.2 536.1 L932.9 535.8 L934.6 535.5 L936.3 535.2 L938.0 535.0 L939.6 534.7 L941.3 534.4 L943.0 534.1 L943.7 534.0" stroke="#ff0000" stroke-width="7.0"/>
</g>
<g fill="none" stroke-width="6.6" stroke-linecap="round">
<path d="M158.6 50.6H234.6" stroke="#0000ff" stroke-dasharray="26 34.5"/>
<path d="M158.6 99.9H234.6" stroke="#ff00ff" stroke-dasharray="10 17.1"/>
<path d="M158.6 150.1H234.6" stroke="#8000ff" stroke-dasharray="3.5 32.5"/>
<path d="M158.6 199.5H234.6" stroke="#800000" stroke-dasharray="0.01 11.93"/>
<path d="M158.6 248.9H234.6" stroke="#008000" stroke-dasharray="31.2 20.8 3.9 30"/>
<path d="M158.6 298.7H234.6" stroke="#ff8000" stroke-dasharray="18 15 0.7 14.1"/>
<path d="M158.6 348.6H234.6" stroke="#000000"/>
<path d="M158.6 398.4H234.6" stroke="#ff0000"/>
</g>
<text x="244.2" y="61.9" font-size="34" xml:space="preserve">|<tspan font-style="italic" dx="4.0">V</tspan><tspan font-size="25" dy="9.6" dx="-2.5">1</tspan><tspan dy="-9.6">| - loading surface</tspan></text>
<text x="244.2" y="111.2" font-size="34" xml:space="preserve"><tspan font-style="italic">V</tspan><tspan font-size="25" dy="9.6" dx="-1.0">2</tspan><tspan dy="-9.6"> - loading surface</tspan></text>
<text x="244.2" y="161.4" font-size="34" xml:space="preserve">|<tspan font-style="italic" dx="4.0">V</tspan><tspan font-size="25" dy="9.6" dx="-2.5">1</tspan><tspan dy="-9.6">| - free surface</tspan></text>
<text x="244.2" y="210.8" font-size="34" xml:space="preserve"><tspan font-style="italic">V</tspan><tspan font-size="25" dy="9.6" dx="-1.0">2</tspan><tspan dy="-9.6"> - free surface</tspan></text>
<text x="244.2" y="260.2" font-size="34" xml:space="preserve">|<tspan font-style="italic" dx="4.0">V</tspan><tspan font-size="25" dy="9.6" dx="-2.5">1</tspan><tspan dy="-9.6">| - middle surface</tspan></text>
<text x="244.2" y="310.0" font-size="34" xml:space="preserve"><tspan font-style="italic">V</tspan><tspan font-size="25" dy="9.6" dx="-1.0">2</tspan><tspan dy="-9.6"> - middle surface</tspan></text>
<text x="243.0" y="359.9" font-size="34" xml:space="preserve">measured |<tspan font-style="italic" dx="2.0">V</tspan><tspan font-size="25" dy="9.6" dx="0.5">1</tspan><tspan dy="-9.6" dx="-0.3">| at N</tspan><tspan font-size="25" dy="9.6">1</tspan><tspan dy="-9.6"> (0°)</tspan></text>
<text x="243.0" y="409.7" font-size="34" xml:space="preserve">measured <tspan font-style="italic">V</tspan><tspan font-size="25" dy="9.6" dx="-1.0">2</tspan><tspan dy="-9.6"> at W</tspan><tspan font-size="25" dy="9.6">1</tspan><tspan dy="-9.6"> (0°)</tspan></text>
<text x="113.3" y="675.2" text-anchor="end" font-size="57">0</text>
<text x="113.3" y="587.9" text-anchor="end" font-size="57">1</text>
<text x="113.3" y="500.6" text-anchor="end" font-size="57">2</text>
<text x="113.3" y="413.3" text-anchor="end" font-size="57">3</text>
<text x="113.3" y="326.0" text-anchor="end" font-size="57">4</text>
<text x="113.3" y="238.7" text-anchor="end" font-size="57">5</text>
<text x="113.3" y="151.4" text-anchor="end" font-size="57">6</text>
<text x="113.3" y="64.1" text-anchor="end" font-size="57">7</text>
<text x="127.9" y="716.2" text-anchor="middle" font-size="56">0.8</text>
<text x="253.1" y="716.2" text-anchor="middle" font-size="56">1.0</text>
<text x="378.3" y="716.2" text-anchor="middle" font-size="56">1.2</text>
<text x="503.5" y="716.2" text-anchor="middle" font-size="56">1.4</text>
<text x="628.7" y="716.2" text-anchor="middle" font-size="56">1.6</text>
<text x="753.9" y="716.2" text-anchor="middle" font-size="56">1.8</text>
<text x="879.1" y="716.2" text-anchor="middle" font-size="56">2.0</text>
<text x="425" y="802" font-size="55.3">Time (µs)</text>
<text transform="translate(41.2 488.2) rotate(-90)" font-size="55.6">Velocity (km/s)</text>
</svg>
</body></html>
